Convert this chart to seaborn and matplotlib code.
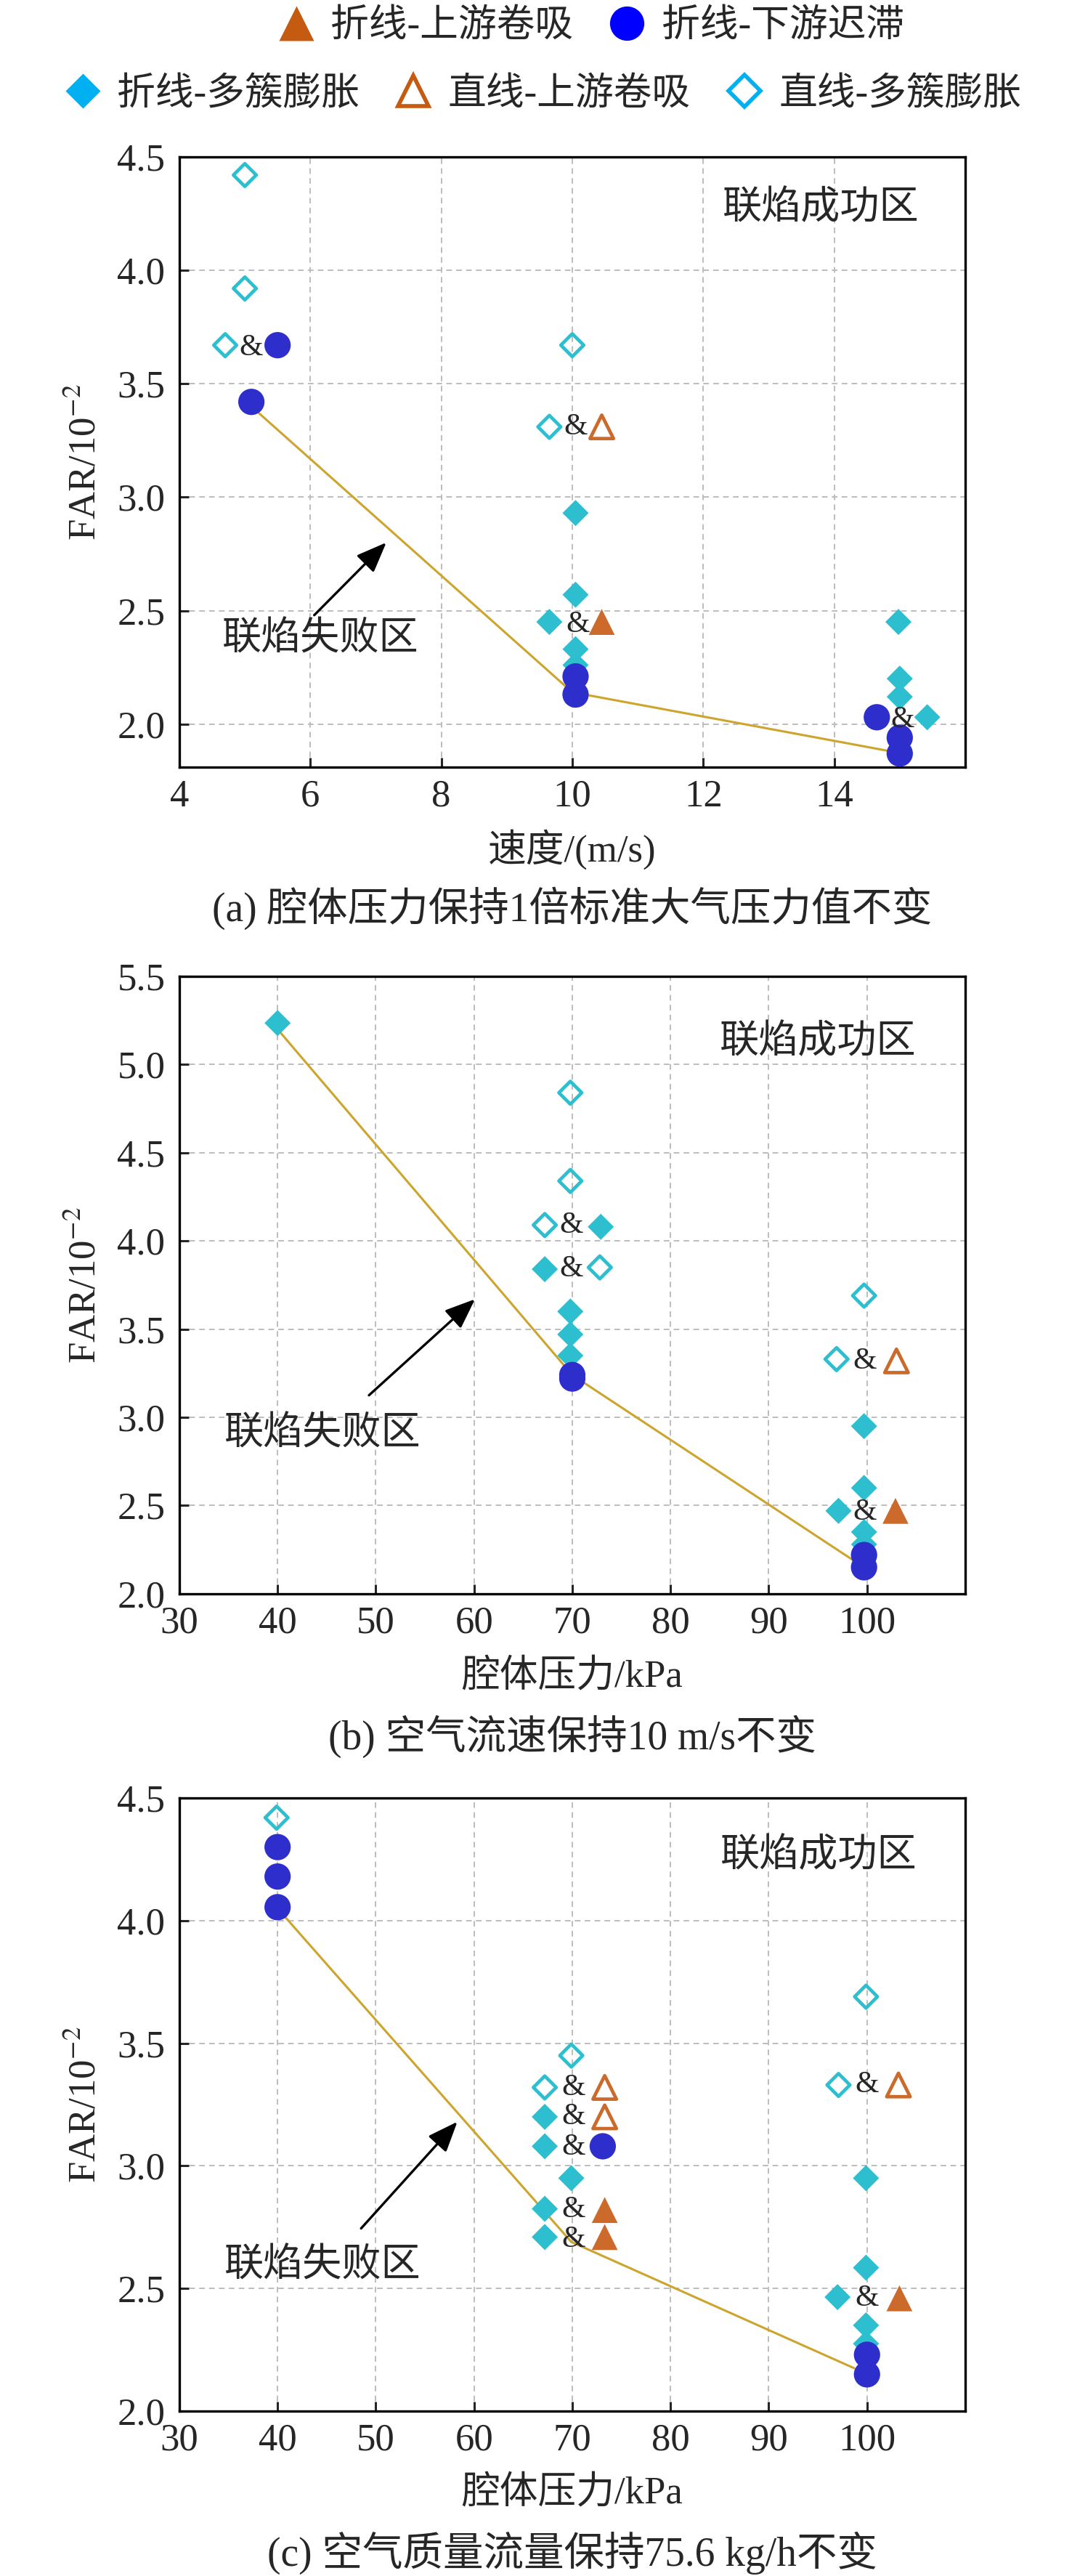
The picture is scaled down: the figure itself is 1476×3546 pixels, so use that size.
import numpy as np
import pandas as pd
import seaborn as sns
import matplotlib.pyplot as plt
from matplotlib.lines import Line2D

# ---------------- (a) 速度 ----------------
a_tri_f_x = [10.45]
a_tri_f_y = [2.45]
a_circ_x = [5.5, 5.1, 10.05, 10.05, 14.65, 15.0, 15.0]
a_circ_y = [3.67, 3.42, 2.21, 2.13, 2.03, 1.94, 1.87]
a_dia_f_x = [10.05, 10.05, 9.65, 10.05, 10.05, 14.98, 15.0, 15.0, 15.42]
a_dia_f_y = [2.93, 2.57, 2.45, 2.33, 2.26, 2.45, 2.20, 2.12, 2.03]
a_tri_o_x = [10.45]
a_tri_o_y = [3.31]
a_dia_o_x = [5.0, 5.0, 4.7, 10.0, 9.65]
a_dia_o_y = [4.42, 3.92, 3.67, 3.67, 3.31]
a_amp_x = [5.1, 10.05, 10.08, 15.04]
a_amp_y = [3.66, 3.31, 2.44, 2.02]
a_line_x = [5.1, 10.0, 14.95]
a_line_y = [3.40, 2.14, 1.875]

# ---------------- (b) 腔体压力, 10 m/s ----------------
b_tri_f_x = [102.9]
b_tri_f_y = [2.47]
b_circ_x = [70.0, 70.0, 99.7, 99.7]
b_circ_y = [3.24, 3.22, 2.22, 2.15]
b_dia_f_x = [40.0, 72.9, 67.2, 69.8, 69.8, 69.8, 99.7, 99.7, 97.1, 99.7, 99.7]
b_dia_f_y = [5.235, 4.08, 3.84, 3.60, 3.47, 3.35, 2.95, 2.60, 2.47, 2.35, 2.28]
b_tri_o_x = [103.0]
b_tri_o_y = [3.32]
b_dia_o_x = [69.8, 69.8, 67.2, 72.8, 99.7, 96.9]
b_dia_o_y = [4.84, 4.34, 4.09, 3.85, 3.69, 3.33]
b_amp_x = [69.9, 69.9, 99.8, 99.8]
b_amp_y = [4.09, 3.84, 3.32, 2.46]
b_line_x = [40.0, 70.0, 98.6]
b_line_y = [5.20, 3.24, 2.19]

# ---------------- (c) 腔体压力, 75.6 kg/h ----------------
c_tri_f_x = [73.3, 73.3, 103.3]
c_tri_f_y = [2.82, 2.71, 2.46]
c_circ_x = [40.0, 40.0, 40.0, 73.1, 100.0, 100.0]
c_circ_y = [4.30, 4.18, 4.055, 3.08, 2.23, 2.15]
c_dia_f_x = [67.2, 67.2, 69.9, 67.2, 67.2, 99.9, 99.9, 97.0, 99.9, 99.9]
c_dia_f_y = [3.20, 3.08, 2.95, 2.825, 2.71, 2.95, 2.585, 2.465, 2.35, 2.275]
c_tri_o_x = [73.3, 73.3, 103.2]
c_tri_o_y = [3.32, 3.20, 3.33]
c_dia_o_x = [39.9, 69.9, 67.2, 99.9, 97.1]
c_dia_o_y = [4.42, 3.45, 3.32, 3.69, 3.33]
c_amp_x = [70.1, 70.1, 70.1, 70.1, 70.1, 100.0, 100.0]
c_amp_y = [3.32, 3.20, 3.075, 2.82, 2.70, 3.33, 2.46]
c_line_x = [40.0, 69.9, 98.7]
c_line_y = [4.05, 2.69, 2.175]

labels = ['折线-上游卷吸', '折线-下游迟滞', '折线-多簇膨胀', '直线-上游卷吸', '直线-多簇膨胀']
captions = ['(a) 腔体压力保持1倍标准大气压力值不变',
            '(b) 空气流速保持10 m/s不变',
            '(c) 空气质量流量保持75.6 kg/h不变']
xlabels = ['速度/(m/s)', '腔体压力/kPa', '腔体压力/kPa']

c_orange = '#CC6A2B'
c_blue = '#2E2ECC'
c_cyan = '#2DBFCF'
c_gold = '#CDA42C'

sns.set_style('white')
plt.rcParams['font.family'] = ['Liberation Serif', 'Noto Sans CJK SC']
plt.rcParams['mathtext.fontset'] = 'stix'
FS = 19

fig = plt.figure(figsize=(7.38, 17.73), dpi=200)
axes = [fig.add_axes([0.1673, 0.7022, 0.7331, 0.2369]),
        fig.add_axes([0.1673, 0.3813, 0.7331, 0.2397]),
        fig.add_axes([0.1673, 0.0640, 0.7331, 0.2380])]

panels = [
    dict(tf=(a_tri_f_x, a_tri_f_y), ci=(a_circ_x, a_circ_y), df=(a_dia_f_x, a_dia_f_y),
         to=(a_tri_o_x, a_tri_o_y), do=(a_dia_o_x, a_dia_o_y), amp=(a_amp_x, a_amp_y),
         line=(a_line_x, a_line_y), xlim=(4, 16), ylim=(1.81, 4.5),
         xt=[4, 6, 8, 10, 12, 14], yt=[2.0, 2.5, 3.0, 3.5, 4.0, 4.5],
         ok=(13.8, 4.27), fail=(6.15, 2.37), arr=((6.06, 2.48), (7.16, 2.80))),
    dict(tf=(b_tri_f_x, b_tri_f_y), ci=(b_circ_x, b_circ_y), df=(b_dia_f_x, b_dia_f_y),
         to=(b_tri_o_x, b_tri_o_y), do=(b_dia_o_x, b_dia_o_y), amp=(b_amp_x, b_amp_y),
         line=(b_line_x, b_line_y), xlim=(30, 110), ylim=(2.0, 5.5),
         xt=[30, 40, 50, 60, 70, 80, 90, 100], yt=[2.0, 2.5, 3.0, 3.5, 4.0, 4.5, 5.0, 5.5],
         ok=(95.0, 5.12), fail=(44.6, 2.90), arr=((49.3, 3.125), (60.1, 3.67))),
    dict(tf=(c_tri_f_x, c_tri_f_y), ci=(c_circ_x, c_circ_y), df=(c_dia_f_x, c_dia_f_y),
         to=(c_tri_o_x, c_tri_o_y), do=(c_dia_o_x, c_dia_o_y), amp=(c_amp_x, c_amp_y),
         line=(c_line_x, c_line_y), xlim=(30, 110), ylim=(2.0, 4.5),
         xt=[30, 40, 50, 60, 70, 80, 90, 100], yt=[2.0, 2.5, 3.0, 3.5, 4.0, 4.5],
         ok=(95.1, 4.26), fail=(44.6, 2.59), arr=((48.5, 2.745), (58.3, 3.18))),
]

for ax, p, cap, xl in zip(axes, panels, captions, xlabels):
    ax.grid(True, ls=(0, (4, 3)), color='#BDBDBD', lw=0.7, zorder=0)
    ax.set_axisbelow(True)
    sns.lineplot(x=p['line'][0], y=p['line'][1], ax=ax, color=c_gold, lw=1.1,
                 sort=False, estimator=None, zorder=2)
    sns.scatterplot(x=p['do'][0], y=p['do'][1], ax=ax, marker='D', s=64,
                    facecolor='none', edgecolor=c_cyan, linewidth=1.7, zorder=3)
    sns.scatterplot(x=p['to'][0], y=p['to'][1], ax=ax, marker='^', s=135,
                    facecolor='none', edgecolor=c_orange, linewidth=1.7, zorder=3)
    sns.scatterplot(x=p['df'][0], y=p['df'][1], ax=ax, marker='D', s=84,
                    color=c_cyan, edgecolor='none', linewidth=0, zorder=3)
    sns.scatterplot(x=p['tf'][0], y=p['tf'][1], ax=ax, marker='^', s=165,
                    color=c_orange, edgecolor='none', linewidth=0, zorder=3)
    sns.scatterplot(x=p['ci'][0], y=p['ci'][1], ax=ax, marker='o', s=170,
                    color=c_blue, edgecolor='none', linewidth=0, zorder=3)
    for x, y in zip(*p['amp']):
        ax.text(x, y, '&', ha='center', va='center', fontsize=15, zorder=4)

    ax.text(*p['ok'], '联焰成功区', ha='center', va='center', fontsize=19.5)
    ax.text(*p['fail'], '联焰失败区', ha='center', va='center', fontsize=19.5)
    ax.annotate('', xy=p['arr'][1], xytext=p['arr'][0],
                arrowprops=dict(arrowstyle='-|>,head_length=0.4,head_width=0.16',
                                color='k', lw=1.2, mutation_scale=32,
                                shrinkA=0, shrinkB=0))

    ax.set_xlim(*p['xlim'])
    ax.set_ylim(*p['ylim'])
    ax.set_xticks(p['xt'])
    ax.set_yticks(p['yt'])
    ax.set_yticklabels([f'{v:.1f}' for v in p['yt']])
    ax.tick_params(direction='in', length=4.7, width=1.1, labelsize=FS,
                   top=False, right=False, bottom=True, left=True)
    ax.tick_params(axis='y', pad=7)
    ax.tick_params(axis='x', pad=6)
    for s in ax.spines.values():
        s.set_linewidth(1.2)
        s.set_color('k')

    ax.set_xlabel(xl, fontsize=FS, va='center')
    ax.xaxis.set_label_coords(0.5, -0.135)
    ax.set_ylabel('FAR/10$^{-2}$', fontsize=FS, va='center')
    ax.yaxis.set_label_coords(-0.119, 0.5)
    ax.text(0.5, -0.231, cap, transform=ax.transAxes, ha='center', va='center', fontsize=20)

# legend (two rows)
h_tf = Line2D([], [], ls='none', marker='^', ms=17, color='#C55A11', mec='none')
h_ci = Line2D([], [], ls='none', marker='o', ms=17, color='#0000FF', mec='none')
h_df = Line2D([], [], ls='none', marker='D', ms=12, color='#00B0F0', mec='none')
h_to = Line2D([], [], ls='none', marker='^', ms=15, mfc='none', mec='#C55A11', mew=2)
h_do = Line2D([], [], ls='none', marker='D', ms=11, mfc='none', mec='#00B0F0', mew=2)

leg_kw = dict(loc='center', frameon=False, fontsize=FS, handlelength=1.0,
              handletextpad=0.4, columnspacing=0.9, borderpad=0, borderaxespad=0)
fig.legend([h_tf, h_ci], labels[:2], ncol=2, bbox_to_anchor=(0.551, 0.9896), **leg_kw)
fig.legend([h_df, h_to, h_do], labels[2:], ncol=3, bbox_to_anchor=(0.506, 0.9633), **leg_kw)

fig.savefig('out.png', dpi=200)
